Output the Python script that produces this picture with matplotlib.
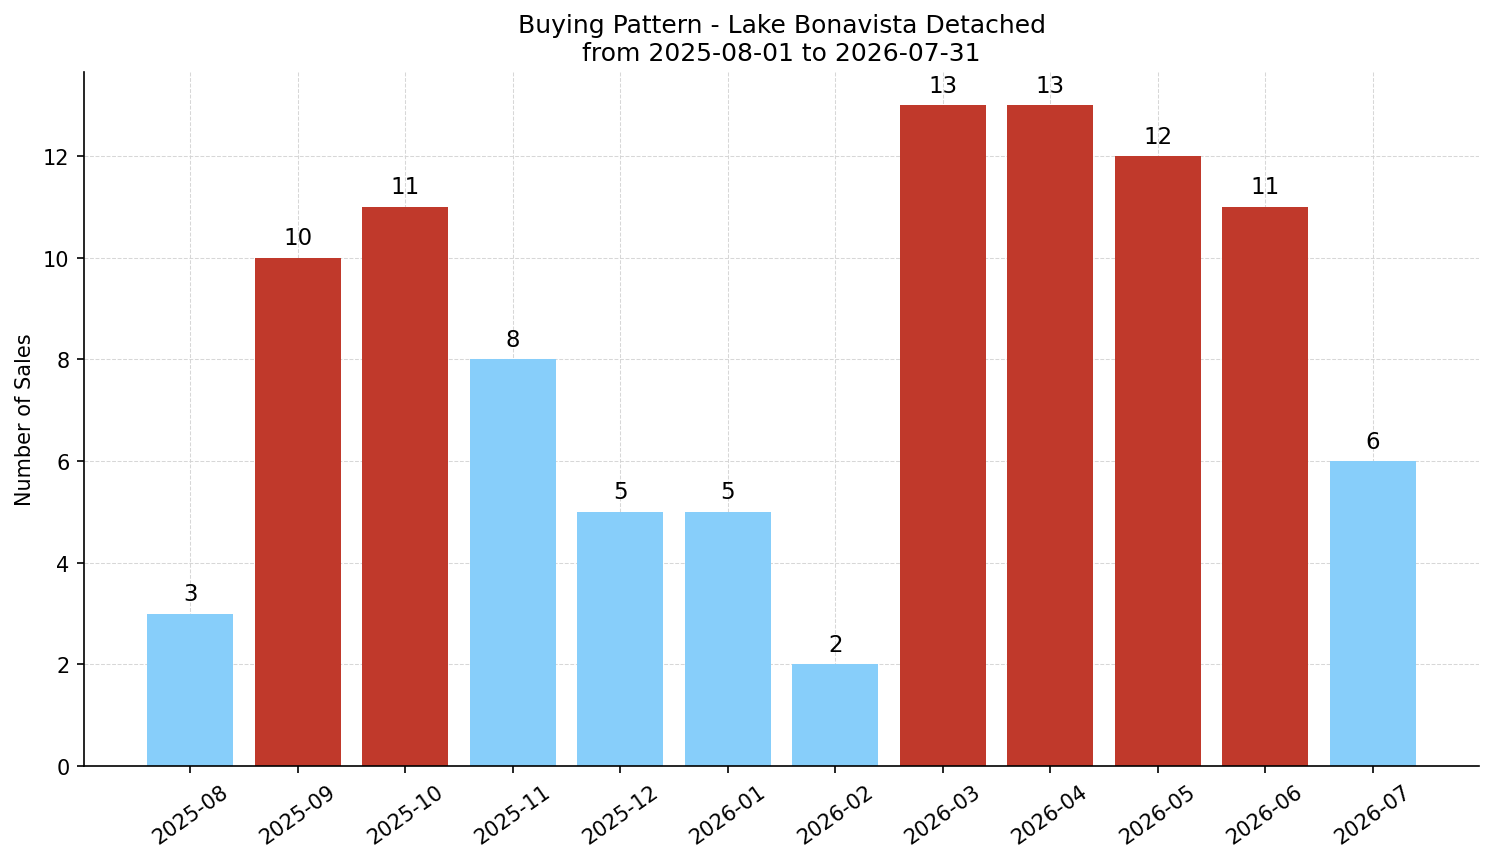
import numpy as np
import matplotlib
matplotlib.use("Agg")
from matplotlib import pyplot as plt

months = ['2025-08', '2025-09', '2025-10', '2025-11', '2025-12', '2026-01',
          '2026-02', '2026-03', '2026-04', '2026-05', '2026-06', '2026-07']
sales = [3, 10, 11, 8, 5, 5, 2, 13, 13, 12, 11, 6]

# busy months above average are red
avg = np.mean(sales)
colors = ['#c0392b' if s > avg else '#87cefa' for s in sales]

fig, ax = plt.subplots(figsize=(9.96, 5.753), dpi=150)
bars = ax.bar(months, sales, color=colors)
ax.bar_label(bars, padding=4, fontsize=11)

ax.set_title('Buying Pattern - Lake Bonavista Detached\nfrom 2025-08-01 to 2026-07-31', fontsize=12)
ax.set_ylabel('Number of Sales', fontsize=10)
ax.grid(True, ls='--', lw=0.5, color='lightgray', alpha=0.9)
ax.set_axisbelow(True)
ax.spines['top'].set_visible(False)
ax.spines['right'].set_visible(False)
plt.xticks(rotation=35)

plt.subplots_adjust(left=0.0562, right=0.99, top=0.9154, bottom=0.1112)
plt.savefig('out.png', dpi=150)
